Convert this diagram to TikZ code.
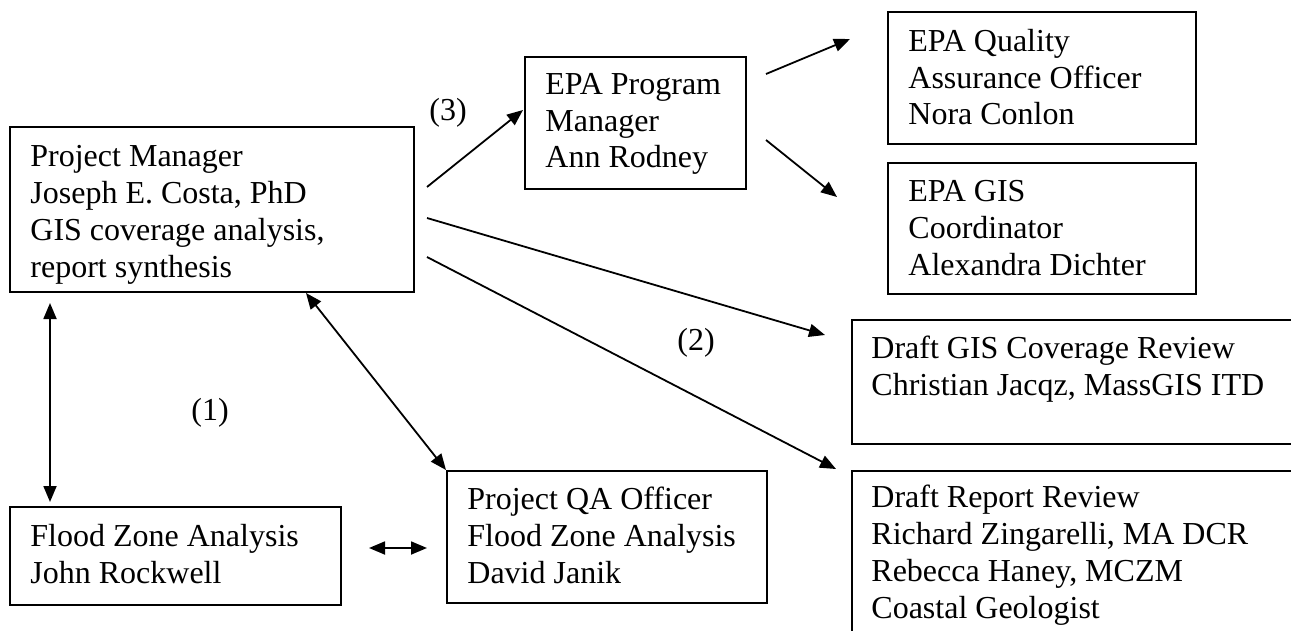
\documentclass[tikz,border=0pt]{standalone}
\usepackage{fontspec}
\setmainfont{Liberation Serif}
\usetikzlibrary{arrows.meta}

\tikzset{
  box/.style={draw, line width=1.2pt, anchor=north west, inner sep=0pt},
  txt/.style={anchor=base west, inner sep=0pt, align=left, font=\fontsize{16}{18.4}\selectfont},
  arr/.style={line width=0.9pt, -{Triangle[length=8pt,width=6.5pt]}},
  dbl/.style={line width=0.9pt, {Triangle[length=8pt,width=6.5pt]}-{Triangle[length=8pt,width=6.5pt]}}
}

\begin{document}
\begin{tikzpicture}[x=0.5pt, y=-0.5pt]

% Fix the page size
\useasboundingbox (0,0) rectangle (1291,631);
\clip (0,0) rectangle (1291,631);

% Draw the boxes
\node[box, minimum width=202pt, minimum height=82.5pt] (pm) at (9,126) {};
\node[box, minimum width=110.5pt, minimum height=66pt] (epa) at (524,56) {};
\node[box, minimum width=154pt, minimum height=66pt] (qao) at (887,11) {};
\node[box, minimum width=154pt, minimum height=65.5pt] (gis) at (887,162) {};
\node[box, minimum width=230pt, minimum height=62pt] (dgis) at (851,319) {};
\node[box, minimum width=230pt, minimum height=100pt] (drep) at (851,470) {};
\node[box, minimum width=165.5pt, minimum height=49pt] (flood) at (9,506) {};
\node[box, minimum width=160pt, minimum height=66pt] (pqa) at (446,470) {};

% Fill in the box texts (placed at the baseline of the last line)
\node[txt] (pmtext) at (30,277) {Project Manager\\Joseph E. Costa, PhD\\GIS coverage analysis,\\report synthesis};
\node[txt] (epatext) at (545,168) {EPA Program\\Manager\\Ann Rodney};
\node[txt] (qaotext) at (908,125) {EPA Quality\\Assurance Officer\\Nora Conlon};
\node[txt] (gistext) at (908,275) {EPA GIS\\Coordinator\\Alexandra Dichter};
\node[txt] (dgistext) at (871,395) {Draft GIS Coverage Review\\Christian Jacqz, MassGIS ITD};
\node[txt] (dreptext) at (871,618) {Draft Report Review\\Richard Zingarelli, MA DCR\\Rebecca Haney, MCZM\\Coastal Geologist};
\node[txt] (floodtext) at (30,583) {Flood Zone Analysis\\John Rockwell};
\node[txt] (pqatext) at (467,583) {Project QA Officer\\Flood Zone Analysis\\David Janik};

% Define the arrow ends
\coordinate (pmA) at (427,187);
\coordinate (pmB) at (427,218);
\coordinate (pmC) at (427,257);
\coordinate (epaIn) at (523,110);
\coordinate (epaA) at (766,74);
\coordinate (epaB) at (766,140);
\coordinate (qaoIn) at (850,39);
\coordinate (gisIn) at (837,197);
\coordinate (dgisIn) at (825,335);
\coordinate (drepIn) at (836,469);
\coordinate (pmLow) at (50,303);
\coordinate (floodTop) at (50,502);
\coordinate (pmCorner) at (306,293);
\coordinate (floodEnd) at (369,548);
\coordinate (pqaEnd) at (427,548);

% Draw the arrows
\draw[arr] (pmA) -- (epaIn);
\draw[arr] (epaA) -- (qaoIn);
\draw[arr] (epaB) -- (gisIn);
\draw[arr] (pmB) -- (dgisIn);
\draw[arr] (pmC) -- (drepIn);
\draw[dbl] (pmLow) -- (floodTop);
\draw[dbl] (pmCorner) -- (pqa.north west);
\draw[dbl] (floodEnd) -- (pqaEnd);

% Label the links
\node[txt, anchor=base] (one) at (210,420) {(1)};
\node[txt, anchor=base] (two) at (696,350) {(2)};
\node[txt, anchor=base] (three) at (448,120) {(3)};

\end{tikzpicture}
\end{document}
